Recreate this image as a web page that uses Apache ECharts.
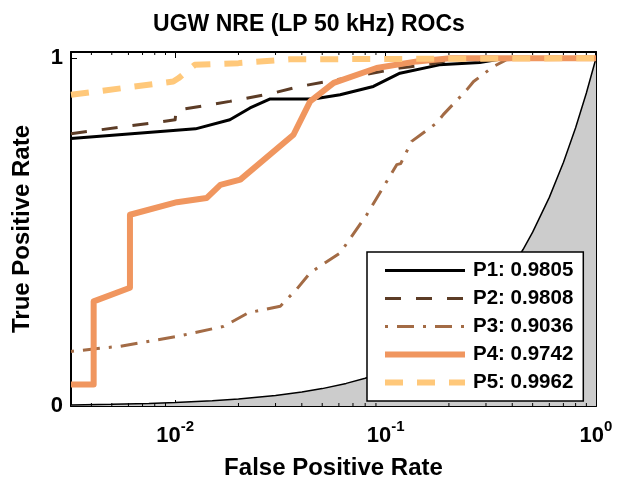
<!DOCTYPE html>
<html><head><meta charset="utf-8">
<script src="https://cdn.jsdelivr.net/npm/echarts@6/dist/echarts.min.js"></script>
<style>html,body{margin:0;padding:0;background:#fff}#c{width:618px;height:485px}</style>
</head><body><div id="c"></div>
<script>
// ---- data ----
const seriesNames = ['P1: 0.9805', 'P2: 0.9808', 'P3: 0.9036', 'P4: 0.9742', 'P5: 0.9962'];

const p1Fpr = [0.0032, 0.0125, 0.0182, 0.0227, 0.0283, 0.0454, 0.0608, 0.0875, 0.117, 0.18, 0.28, 0.37, 1];
const p1Tpr = [0.769, 0.797, 0.823, 0.857, 0.883, 0.883, 0.895, 0.919, 0.957, 0.981, 0.988, 1.0, 1.0];

const p2Fpr = [0.0032, 0.01, 0.0101, 0.0182, 0.0293, 0.0392, 0.0608, 0.117, 0.168, 0.22, 1];
const p2Tpr = [0.783, 0.823, 0.850, 0.876, 0.900, 0.919, 0.940, 0.972, 0.984, 1.0, 1.0];

const p3Fpr = [0.0032, 0.0055, 0.0102, 0.017, 0.0223, 0.0316, 0.0377, 0.0438, 0.0608, 0.0814, 0.113, 0.118, 0.133, 0.175, 0.188, 0.243, 0.262, 0.325, 0.376, 1];
const p3Tpr = [0.157, 0.172, 0.200, 0.229, 0.268, 0.287, 0.335, 0.383, 0.440, 0.550, 0.694, 0.697, 0.761, 0.814, 0.838, 0.909, 0.933, 0.976, 0.996, 1.0];

const p4Fpr = [0.0032, 0.0041, 0.0041, 0.0061, 0.0061, 0.0102, 0.0141, 0.0164, 0.0204, 0.0365, 0.0438, 0.0567, 0.0906, 0.141, 0.2025, 1];
const p4Tpr = [0.062, 0.062, 0.301, 0.340, 0.550, 0.586, 0.598, 0.636, 0.651, 0.780, 0.876, 0.929, 0.972, 0.991, 1.0, 1.0];

const p5Fpr = [0.0032, 0.0098, 0.0104, 0.0124, 0.02, 0.035, 1];
const p5Tpr = [0.895, 0.933, 0.943, 0.981, 0.986, 0.997, 1.0];

// chance diagonal (TPR = FPR) sample points
const chanceFpr = [0.0032, 0.005, 0.0075, 0.01, 0.015, 0.02, 0.03, 0.04, 0.05, 0.065, 0.08, 0.1, 0.125, 0.15, 0.2, 0.25, 0.3, 0.35, 0.4, 0.45, 0.5, 0.6, 0.7, 0.8, 0.9, 1];

const minorTickVals = [0.004, 0.005, 0.006, 0.007, 0.008, 0.009, 0.02, 0.03, 0.04, 0.05, 0.06, 0.07, 0.08, 0.09, 0.2, 0.3, 0.4, 0.5, 0.6, 0.7, 0.8, 0.9];
const yTickLabels = ['0', '1'];

// ---- chart ----
const FONT = '"Liberation Sans", Arial, Helvetica, sans-serif';
const X_MIN = 0.0032, X_MAX = 1, Y_MIN = 0, Y_MAX = 1.018;

const zip = (a, b) => a.map((v, i) => [v, b[i]]);
const colors = ['#000000', '#5c3c26', '#a36b45', '#f0965f', '#ffc87a'];
const widths = [3, 3, 3, 6, 6];
const types = ['solid', [16, 15], [3, 9, 17, 9], 'solid', [18, 14]];
const dataSets = [zip(p1Fpr, p1Tpr), zip(p2Fpr, p2Tpr), zip(p3Fpr, p3Tpr), zip(p4Fpr, p4Tpr), zip(p5Fpr, p5Tpr)];

function xLabel(v) {
  const e = Math.log10(v);
  const r = Math.round(e);
  if (Math.abs(e - r) > 1e-6) return '';
  return '{b|10}{s|' + r + '}';
}

const axisBase = {
  axisLine: { show: true, onZero: false, lineStyle: { color: '#000', width: 2 } },
  splitLine: { show: false },
};
const tickStyle = { show: true, inside: true, length: 6, lineStyle: { color: '#000', width: 1 } };

const chart = echarts.init(document.getElementById('c'));
chart.setOption({
  animation: false,
  backgroundColor: '#fff',
  title: {
    text: 'UGW NRE (LP 50 kHz) ROCs', left: 'center', top: 8,
    textStyle: { fontFamily: FONT, fontSize: 23, fontWeight: 'bold', color: '#000' }
  },
  grid: { left: 71, right: 22, top: 52, bottom: 79, show: false },
  xAxis: [
    Object.assign({}, axisBase, {
      type: 'log', logBase: 10, min: X_MIN, max: X_MAX, position: 'bottom',
      name: 'False Positive Rate', nameLocation: 'middle', nameGap: 50,
      nameTextStyle: { fontFamily: FONT, fontSize: 24, fontWeight: 'bold', color: '#000' },
      axisTick: tickStyle,
      axisLabel: {
        show: true, margin: 13, formatter: xLabel, showMinLabel: false,
        rich: {
          b: { fontFamily: FONT, fontSize: 22, fontWeight: 'bold', color: '#000', lineHeight: 28, verticalAlign: 'bottom' },
          s: { fontFamily: FONT, fontSize: 15, fontWeight: 'bold', color: '#000', lineHeight: 14, verticalAlign: 'top' }
        }
      }
    }),
    Object.assign({}, axisBase, {
      type: 'log', logBase: 10, min: X_MIN, max: X_MAX, position: 'top',
      axisTick: tickStyle,
      axisLabel: { show: false }
    })
  ],
  yAxis: [
    Object.assign({}, axisBase, {
      type: 'value', min: Y_MIN, max: Y_MAX, interval: 1, position: 'left',
      name: 'True Positive Rate', nameLocation: 'middle', nameGap: 37,
      nameTextStyle: { fontFamily: FONT, fontSize: 24, fontWeight: 'bold', color: '#000' },
      axisTick: tickStyle,
      axisLabel: {
        show: true, margin: 8, fontFamily: FONT, fontSize: 22, fontWeight: 'bold', color: '#000',
        formatter: v => (Math.abs(v - Math.round(v)) < 1e-9 && v <= 1) ? yTickLabels[Math.round(v)] : ''
      }
    }),
    Object.assign({}, axisBase, {
      type: 'value', min: Y_MIN, max: Y_MAX, interval: 1, position: 'right',
      axisTick: tickStyle,
      axisLabel: { show: false }
    })
  ],
  legend: {
    orient: 'vertical', left: 367, top: 252,
    padding: [8, 10, 8, 15],
    itemWidth: 80, itemHeight: 20, itemGap: 7,
    backgroundColor: '#fff', borderColor: '#000', borderWidth: 1.5, borderRadius: 0,
    textStyle: { fontFamily: FONT, fontSize: 20.5, fontWeight: 'bold', color: '#000', padding: [0, 0, 0, 3] },
    itemStyle: { opacity: 0, borderWidth: 0 },
    lineStyle: { width: 'inherit' },
    data: seriesNames.map((n, i) => ({
      name: n,
      itemStyle: { opacity: 0, borderWidth: 0 },
      lineStyle: { width: widths[i], type: types[i], color: colors[i], cap: 'butt' }
    })),
    selectedMode: false
  },
  series: [
    {
      name: 'chance', type: 'line', symbol: 'none', silent: true, z: 1,
      data: chanceFpr.map(v => [v, v]),
      lineStyle: { color: '#000', width: 1.5 },
      areaStyle: { color: '#cccccc', opacity: 1 }
    }
  ].concat(dataSets.map((d, i) => ({
    name: seriesNames[i], type: 'line', symbol: 'none', z: 2 + i,
    data: d,
    lineStyle: { color: colors[i], width: widths[i], type: types[i], cap: 'butt', join: 'round' },
    itemStyle: { color: colors[i] }
  }))).concat([{
    name: 'minorTicks', type: 'custom', silent: true, clip: false, z: 20,
    data: minorTickVals.map(v => [v, 0]),
    encode: { x: 0, y: 1 },
    renderItem: (params, api) => {
      const x = api.value(0);
      const b = api.coord([x, Y_MIN]);
      const t = api.coord([x, Y_MAX]);
      return {
        type: 'group', children: [
          { type: 'line', shape: { x1: b[0], y1: b[1], x2: b[0], y2: b[1] - 3 }, style: { stroke: '#000', lineWidth: 1 } },
          { type: 'line', shape: { x1: t[0], y1: t[1], x2: t[0], y2: t[1] + 3 }, style: { stroke: '#000', lineWidth: 1 } }
        ]
      };
    }
  }])
});
</script>
</body></html>
